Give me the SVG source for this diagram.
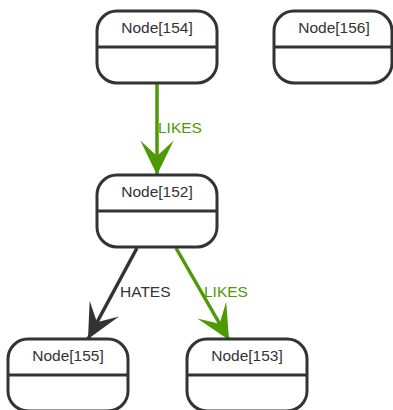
<svg xmlns="http://www.w3.org/2000/svg" width="393" height="410" viewBox="0 0 393 410">
<style>
.node rect{fill:#fff;stroke:#333;stroke-width:3}
.node line{stroke:#333;stroke-width:3}
.node text{font-family:"Liberation Sans",Arial,sans-serif;font-size:15.5px;fill:#333;text-anchor:middle}
.lbl{font-family:"Liberation Sans",Arial,sans-serif;font-size:15.5px}
.green{stroke:#4e9a06;fill:none;stroke-width:3.5}
.dark{stroke:#333;fill:none;stroke-width:3.5}
</style>
<defs>
<marker id="ag" markerUnits="userSpaceOnUse" markerWidth="40" markerHeight="40" viewBox="-33 -17 36 34" refX="0" refY="0" orient="auto"><path d="M0,0 L-31,-15 L-17,0 L-31,15 Z" fill="#4e9a06"/></marker>
<marker id="ad" markerUnits="userSpaceOnUse" markerWidth="40" markerHeight="40" viewBox="-33 -17 36 34" refX="0" refY="0" orient="auto"><path d="M0,0 L-31,-15 L-17,0 L-31,15 Z" fill="#333"/></marker>
</defs>
<g id="connectors">
<line class="green" x1="157" y1="83" x2="157" y2="175" marker-end="url(#ag)"/>
<text class="lbl" x="158" y="133" fill="#4e9a06">LIKES</text>
<line class="dark" x1="137" y1="248" x2="88" y2="339" marker-end="url(#ad)"/>
<text class="lbl" x="120" y="297" fill="#333">HATES</text>
<line class="green" x1="176" y1="248" x2="229" y2="340" marker-end="url(#ag)"/>
<text class="lbl" x="204" y="297" fill="#4e9a06">LIKES</text>
</g>
<g id="node154" class="node"><rect x="97" y="11" width="120" height="72" rx="20"/><line x1="97" y1="47" x2="217" y2="47"/><text x="157" y="33">Node[154]</text></g>
<g id="node156" class="node"><rect x="274" y="11" width="118" height="72" rx="20"/><line x1="274" y1="47" x2="392" y2="47"/><text x="334" y="33">Node[156]</text></g>
<g id="node152" class="node"><rect x="97" y="175" width="120" height="72" rx="20"/><line x1="97" y1="211" x2="217" y2="211"/><text x="157" y="197">Node[152]</text></g>
<g id="node155" class="node"><rect x="8" y="339" width="120" height="72" rx="20"/><line x1="8" y1="375" x2="128" y2="375"/><text x="68" y="361">Node[155]</text></g>
<g id="node153" class="node"><rect x="187" y="339" width="120" height="72" rx="20"/><line x1="187" y1="375" x2="307" y2="375"/><text x="247" y="361">Node[153]</text></g>
</svg>
